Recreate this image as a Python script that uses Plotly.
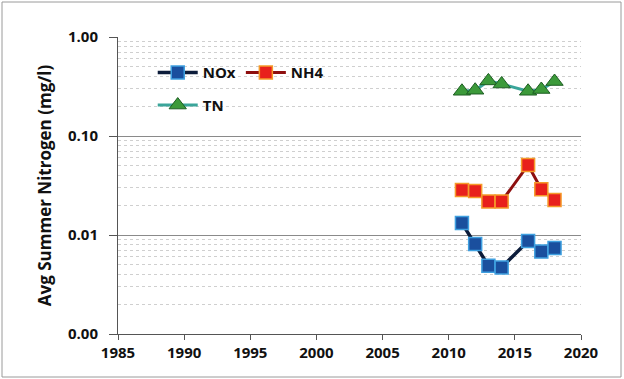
import plotly.graph_objects as go

years = [2011, 2012, 2013, 2014, 2016, 2017, 2018]
nox = [0.0132, 0.0081, 0.0049, 0.0047, 0.0087, 0.0068, 0.0074]
nh4 = [0.0285, 0.0278, 0.0218, 0.0218, 0.051, 0.029, 0.0226]
tn = [0.283, 0.29, 0.36, 0.335, 0.283, 0.295, 0.355]

y_tickvals = [0.001, 0.01, 0.1, 1.0]
y_ticktext = ["0.00", "0.01", "0.10", "1.00"]
x_tickvals = [1985, 1990, 1995, 2000, 2005, 2010, 2015, 2020]

minor_vals = [m * d for d in (0.001, 0.01, 0.1) for m in range(2, 10)]

FONT = "Open Sans"

fig = go.Figure()
fig.add_trace(go.Scatter(
    x=years, y=nox, name="NOx", mode="lines+markers",
    line=dict(color="#0c1c3a", width=3.5),
    marker=dict(symbol="square", size=13, color="#1a4f9e", line=dict(color="#3fa0e0", width=1.5)),
    legend="legend"))
fig.add_trace(go.Scatter(
    x=years, y=nh4, name="NH4", mode="lines+markers",
    line=dict(color="#8e0f0f", width=3),
    marker=dict(symbol="square", size=13, color="#e8201c", line=dict(color="#f59a2a", width=1.5)),
    legend="legend"))
fig.add_trace(go.Scatter(
    x=years, y=tn, name="TN", mode="lines+markers",
    line=dict(color="#3aa59a", width=3),
    marker=dict(symbol="triangle-up", size=15, color="#3c9a3a", line=dict(color="#1d5d22", width=1)),
    legend="legend2"))

legfont = dict(size=15, family=FONT, color="#111", weight="bold")
tickfont = dict(size=15, family=FONT, color="#111", weight="bold")

fig.update_layout(
    width=624, height=379,
    margin=dict(l=118, r=43, t=37, b=45),
    paper_bgcolor="white", plot_bgcolor="white",
    font=dict(family=FONT, color="#111111"),
    legend=dict(x=0.075, y=0.88, xanchor="left", yanchor="middle", orientation="h",
                font=legfont, bgcolor="rgba(0,0,0,0)",
                itemwidth=40, tracegroupgap=0),
    legend2=dict(x=0.075, y=0.77, xanchor="left", yanchor="middle", orientation="h",
                 font=legfont, bgcolor="rgba(0,0,0,0)",
                 itemwidth=40),
    xaxis=dict(range=[1985, 2020], tickvals=x_tickvals, showgrid=False,
               showline=True, linecolor="#555", linewidth=1,
               ticks="outside", ticklen=5, tickcolor="#555",
               tickfont=tickfont, zeroline=False),
    yaxis=dict(type="log", range=[-3, 0], tickvals=y_tickvals, ticktext=y_ticktext,
               showgrid=True, gridcolor="#8a8a8a", gridwidth=1,
               showline=True, linecolor="#555", linewidth=1,
               ticks="outside", ticklen=8, tickcolor="#555",
               ticklabelstandoff=8,
               tickfont=tickfont,
               title=dict(text="Avg Summer Nitrogen (mg/l)", standoff=12,
                          font=dict(size=17, family=FONT, color="#111", weight="bold")),
               minor=dict(tickvals=minor_vals, showgrid=True, gridcolor="#cfcfcf",
                          griddash="dot", gridwidth=1, ticks="")),
    showlegend=True,
)

# outer figure border
fig.add_shape(type="rect", xref="paper", yref="paper",
              x0=-116 / 463, x1=1 + 40 / 463, y0=-43 / 297, y1=1 + 35 / 297,
              line=dict(color="#9a9a9a", width=1), fillcolor="rgba(0,0,0,0)", layer="below")

fig.write_html("out.html", config={"displayModeBar": False})

with open("out.html", "r", encoding="utf-8") as f:
    html = f.read()
html = html.replace("<body>", "<body style=\"margin:0;padding:0;\">", 1)
with open("out.html", "w", encoding="utf-8") as f:
    f.write(html)
